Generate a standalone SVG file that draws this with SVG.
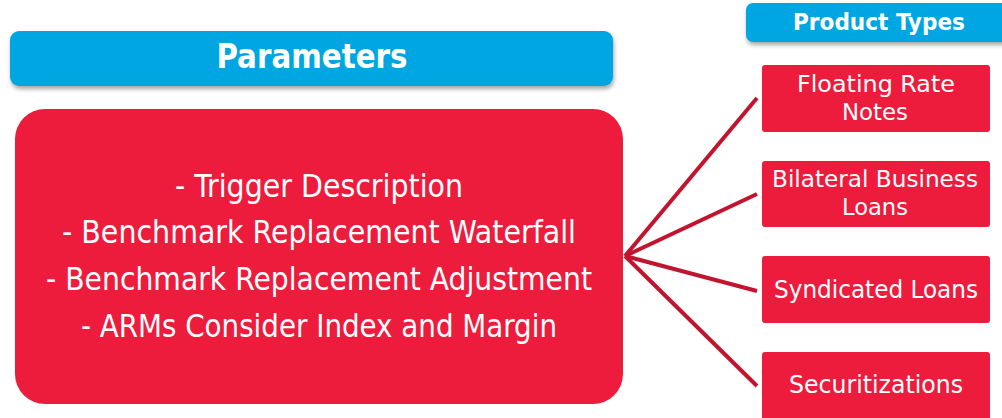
<svg xmlns="http://www.w3.org/2000/svg" width="1002" height="418" viewBox="0 0 1002 418">
  <defs>
    <filter id="shadow" x="-5%" y="-20%" width="110%" height="160%">
      <feDropShadow dx="1" dy="3" stdDeviation="2" flood-color="#000" flood-opacity="0.35"/>
    </filter>
  </defs>
  <style>
    .hdr { fill: #05A6E1; }
    .red { fill: #ED1B3C; }
    .txt { fill: #FFFFFF; font-family: "DejaVu Sans Condensed", "DejaVu Sans", sans-serif; text-anchor: middle; }
    .bold { font-weight: bold; }
    .link { stroke: #C1152F; stroke-width: 4; fill: none; stroke-linecap: butt; }
  </style>
  <rect width="1002" height="418" fill="#FFFFFF"/>

  <!-- connectors from the parameters box to each product type -->
  <g id="connectors">
    <line class="link" x1="625" y1="256" x2="757" y2="98"/>
    <line class="link" x1="625" y1="256" x2="757" y2="194"/>
    <line class="link" x1="625" y1="256" x2="757" y2="291"/>
    <line class="link" x1="625" y1="256" x2="757" y2="386"/>
  </g>

  <g id="parameters-header">
    <rect class="hdr" x="10" y="31" width="603" height="55" rx="9" filter="url(#shadow)"/>
    <text class="txt bold" x="312" y="68" font-size="33" textLength="191" lengthAdjust="spacingAndGlyphs">Parameters</text>
  </g>

  <g id="parameters">
    <rect class="red" x="15" y="109" width="608" height="295" rx="30"/>
    <text class="txt" x="319" y="197" font-size="32" textLength="288" lengthAdjust="spacingAndGlyphs">- Trigger Description</text>
    <text class="txt" x="319" y="243" font-size="32" textLength="514" lengthAdjust="spacingAndGlyphs">- Benchmark Replacement Waterfall</text>
    <text class="txt" x="319" y="290" font-size="32" textLength="546" lengthAdjust="spacingAndGlyphs">- Benchmark Replacement Adjustment</text>
    <text class="txt" x="319" y="337" font-size="32" textLength="476" lengthAdjust="spacingAndGlyphs">- ARMs Consider Index and Margin</text>
  </g>

  <g id="product-types-header">
    <rect class="hdr" x="746" y="3" width="270" height="39" rx="7" filter="url(#shadow)"/>
    <text class="txt bold" x="879" y="30" font-size="23" textLength="172" lengthAdjust="spacingAndGlyphs">Product Types</text>
  </g>

  <g id="floating-rate-notes">
    <rect class="red" x="762" y="65" width="228" height="67" rx="3"/>
    <text class="txt" x="876" y="92" font-size="23" textLength="158" lengthAdjust="spacingAndGlyphs">Floating Rate</text>
    <text class="txt" x="875" y="120" font-size="23" textLength="66" lengthAdjust="spacingAndGlyphs">Notes</text>
  </g>

  <g id="bilateral-business-loans">
    <rect class="red" x="762" y="161" width="228" height="66" rx="3"/>
    <text class="txt" x="875" y="187" font-size="23" textLength="206" lengthAdjust="spacingAndGlyphs">Bilateral Business</text>
    <text class="txt" x="875" y="215" font-size="23" textLength="66" lengthAdjust="spacingAndGlyphs">Loans</text>
  </g>

  <g id="syndicated-loans">
    <rect class="red" x="762" y="256" width="228" height="67" rx="3"/>
    <text class="txt" x="876" y="298" font-size="25" textLength="204" lengthAdjust="spacingAndGlyphs">Syndicated Loans</text>
  </g>

  <g id="securitizations">
    <rect class="red" x="762" y="352" width="228" height="70" rx="3"/>
    <text class="txt" x="876" y="393" font-size="25" textLength="174" lengthAdjust="spacingAndGlyphs">Securitizations</text>
  </g>
</svg>
